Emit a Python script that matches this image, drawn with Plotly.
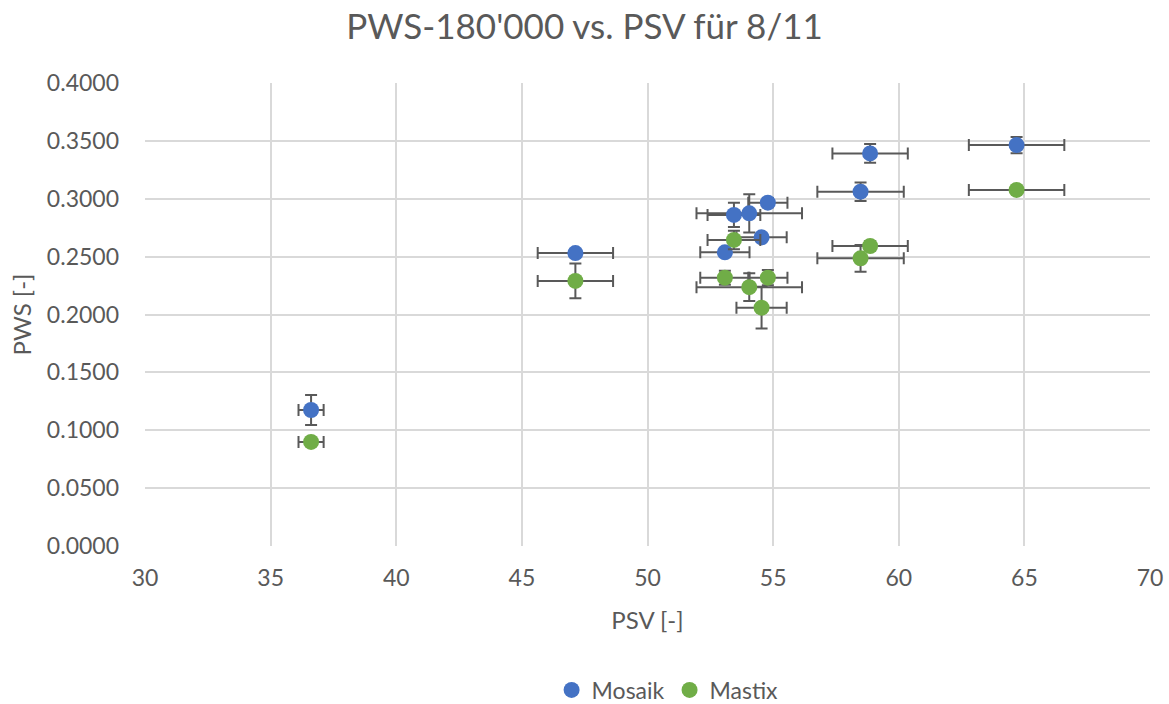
import plotly.graph_objects as go

# Data
psv = [36.61, 47.13, 53.08, 53.44, 54.05, 54.54, 54.79, 58.48, 58.86, 64.69]
psv_err = [0.5, 1.5, 0.98, 1.05, 2.1, 1.0, 0.78, 1.72, 1.5, 1.9]
mosaik = [0.1175, 0.2531, 0.2537, 0.2860, 0.2874, 0.2667, 0.2966, 0.3061, 0.3392, 0.3464]
mosaik_err = [0.013, 0.003, 0.003, 0.0105, 0.0165, 0.003, 0.004, 0.008, 0.008, 0.007]
mastix = [0.0899, 0.2290, 0.2318, 0.2644, 0.2236, 0.2059, 0.2318, 0.2485, 0.2592, 0.3076]
mastix_err = [0.002, 0.015, 0.006, 0.008, 0.012, 0.018, 0.0066, 0.0116, 0.004, 0.002]

series_names = ["Mosaik", "Mastix"]
colors = ["#4472C4", "#70AD47"]
x_ticks = [30, 35, 40, 45, 50, 55, 60, 65, 70]
y_ticks = [0.0, 0.05, 0.1, 0.15, 0.2, 0.25, 0.3, 0.35, 0.4]

FONT = "Lato, 'Open Sans', sans-serif"
GREY = "#595959"

fig = go.Figure()
for name, ys, yerr, col in zip(series_names, [mosaik, mastix], [mosaik_err, mastix_err], colors):
    fig.add_trace(go.Scatter(
        x=psv, y=ys, mode="markers", name=name,
        marker=dict(color=col, size=16, line=dict(width=0)),
        error_x=dict(type="data", array=psv_err, visible=True, color=GREY, thickness=2, width=6),
        error_y=dict(type="data", array=yerr, visible=True, color=GREY, thickness=2, width=6),
    ))

fig.update_layout(
    width=1169, height=704,
    paper_bgcolor="white", plot_bgcolor="white",
    margin=dict(l=145, r=19, t=83, b=158, autoexpand=False),
    font=dict(family=FONT, color=GREY, size=23),
    title=dict(text="PWS-180'000 vs. PSV für 8/11", x=0.5, xanchor="center",
               y=0.962, yanchor="middle", font=dict(size=35, color=GREY, family=FONT)),
    xaxis=dict(range=[30, 70], tickvals=x_ticks, ticktext=[str(v) for v in x_ticks],
               showgrid=True, gridcolor="#D9D9D9", gridwidth=1.5, zeroline=False,
               showline=False, ticks="", ticklabelstandoff=16, tickfont=dict(size=23, color=GREY),
               title=dict(text="PSV [-]", font=dict(size=24, color=GREY), standoff=22)),
    yaxis=dict(range=[0, 0.4], tickvals=y_ticks, ticktext=[f"{v:.4f}" for v in y_ticks],
               showgrid=True, gridcolor="#D9D9D9", gridwidth=1.5, zeroline=False,
               showline=False, ticks="", ticklabelstandoff=25, tickfont=dict(size=23, color=GREY),
               title=dict(text="PWS [-]", font=dict(size=24, color=GREY), standoff=8)),
    legend=dict(orientation="h", x=0.52, xanchor="center", y=-0.311, yanchor="middle",
                font=dict(size=23, color=GREY), itemwidth=30),
    showlegend=True,
)

fig.write_html("out.html")
